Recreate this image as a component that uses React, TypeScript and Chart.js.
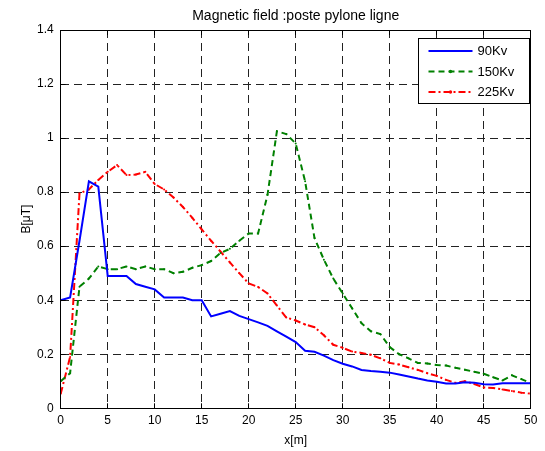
import React, { useEffect, useRef } from 'react';
import { Chart, registerables } from 'chart.js';

Chart.register(...registerables);

const chartTitle = 'Magnetic field :poste pylone ligne';
const xAxisLabel = 'x[m]';
const yAxisLabel = 'B[μT]';
const seriesLabels = ['90Kv', '150Kv', '225Kv'];

const xValues = [
  0, 1, 2, 3, 4, 5, 6, 7, 8, 9, 10, 11, 12, 13, 14, 15, 16, 17, 18, 19, 20, 21, 22, 23, 24, 25,
  26, 27, 28, 29, 30, 31, 32, 33, 34, 35, 36, 37, 38, 39, 40, 41, 42, 43, 44, 45, 46, 47, 48, 49, 50,
];

const series90 = [
  0.40, 0.41, 0.62, 0.84, 0.82, 0.49, 0.49, 0.49, 0.46, 0.45, 0.44, 0.41, 0.41, 0.41, 0.40, 0.40,
  0.34, 0.35, 0.36, 0.342, 0.33, 0.318, 0.305, 0.285, 0.265, 0.245, 0.213, 0.209, 0.195, 0.178,
  0.165, 0.155, 0.142, 0.138, 0.135, 0.132, 0.125, 0.118, 0.11, 0.103, 0.098, 0.092, 0.092, 0.096,
  0.095, 0.089, 0.088, 0.093, 0.093, 0.093, 0.093,
];

const series150 = [
  0.10, 0.13, 0.45, 0.48, 0.525, 0.515, 0.515, 0.525, 0.515, 0.525, 0.515, 0.515, 0.50, 0.505,
  0.52, 0.53, 0.545, 0.575, 0.59, 0.62, 0.647, 0.647, 0.79, 1.025, 1.015, 0.98, 0.84, 0.63, 0.55,
  0.48, 0.425, 0.37, 0.315, 0.285, 0.275, 0.227, 0.20, 0.185, 0.168, 0.166, 0.16, 0.158, 0.15,
  0.143, 0.135, 0.128, 0.115, 0.103, 0.122, 0.108, 0.094,
];

const series225 = [
  0.054, 0.19, 0.795, 0.81, 0.845, 0.875, 0.90, 0.863, 0.865, 0.875, 0.83, 0.81, 0.78, 0.745,
  0.705, 0.662, 0.62, 0.58, 0.54, 0.50, 0.462, 0.449, 0.425, 0.38, 0.336, 0.325, 0.31, 0.30, 0.27,
  0.235, 0.224, 0.21, 0.205, 0.198, 0.185, 0.168, 0.162, 0.152, 0.142, 0.13, 0.12, 0.105, 0.094,
  0.10, 0.09, 0.077, 0.075, 0.07, 0.064, 0.058, 0.054,
];

const FONT = "'Liberation Sans', Arial, Helvetica, sans-serif";

const toPoints = (ys: number[]) => ys.map((y, i) => ({ x: xValues[i], y }));

const matlabFrame = {
  id: 'matlabFrame',
  afterDraw(chart: any) {
    const { ctx, chartArea: a, scales } = chart;
    const al = (p: number) => Math.round(p - 0.5) + 0.5;
    ctx.save();
    ctx.setLineDash([]);
    ctx.strokeStyle = '#000';
    ctx.lineWidth = 1;
    // inner tick marks
    const xs = scales.x;
    const ys = scales.y;
    ctx.beginPath();
    xs.ticks.forEach((t: any) => {
      const px = al(xs.getPixelForValue(t.value));
      ctx.moveTo(px, a.bottom);
      ctx.lineTo(px, a.bottom - 5);
      ctx.moveTo(px, a.top);
      ctx.lineTo(px, a.top + 5);
    });
    ys.ticks.forEach((t: any) => {
      const py = al(ys.getPixelForValue(t.value));
      ctx.moveTo(a.left, py);
      ctx.lineTo(a.left + 5, py);
      ctx.moveTo(a.right, py);
      ctx.lineTo(a.right - 5, py);
    });
    ctx.stroke();
    // frame
    ctx.strokeRect(al(a.left), al(a.top), al(a.right) - al(a.left), al(a.bottom) - al(a.top));

    // legend box
    const bw = 111;
    const bh = 65;
    const bx = al(a.right - 1.4 - bw);
    const by = al(a.top + 8.3);
    ctx.fillStyle = '#fff';
    ctx.fillRect(bx, by, bw, bh);
    ctx.strokeRect(bx, by, bw, bh);
    chart.data.datasets.forEach((ds: any, i: number) => {
      const yy = by + 12.5 + i * 20.5;
      ctx.save();
      ctx.strokeStyle = ds.borderColor;
      ctx.lineWidth = ds.borderWidth;
      ctx.setLineDash(ds.borderDash || []);
      ctx.beginPath();
      ctx.moveTo(bx + 10, yy);
      ctx.lineTo(bx + 54, yy);
      ctx.stroke();
      if (ds.pointRadius > 0) {
        ctx.fillStyle = ds.borderColor;
        ctx.beginPath();
        ctx.arc(bx + 32, yy, ds.pointRadius + 0.7, 0, Math.PI * 2);
        ctx.fill();
      }
      ctx.restore();
      ctx.fillStyle = '#000';
      ctx.font = `13px ${FONT}`;
      ctx.textAlign = 'left';
      ctx.textBaseline = 'middle';
      ctx.fillText(ds.label, bx + 59, yy + 0.5);
    });
    ctx.restore();
  },
};

export default function App() {
  const canvasRef = useRef<HTMLCanvasElement | null>(null);

  useEffect(() => {
    if (!canvasRef.current) return;
    const chart = new Chart(canvasRef.current, {
      type: 'line',
      data: {
        datasets: [
          {
            label: seriesLabels[0],
            data: toPoints(series90),
            borderColor: '#0000ff',
            backgroundColor: '#0000ff',
            borderWidth: 2,
            pointRadius: 0,
            tension: 0,
          },
          {
            label: seriesLabels[1],
            data: toPoints(series150),
            borderColor: '#008000',
            backgroundColor: '#008000',
            borderWidth: 2,
            borderDash: [6, 4],
            pointRadius: 1,
            pointBorderWidth: 0,
            tension: 0,
          },
          {
            label: seriesLabels[2],
            data: toPoints(series225),
            borderColor: '#ff0000',
            backgroundColor: '#ff0000',
            borderWidth: 2,
            borderDash: [7, 3, 2, 3],
            pointRadius: 1,
            pointBorderWidth: 0,
            tension: 0,
          },
        ],
      },
      options: {
        animation: false,
        responsive: false,
        maintainAspectRatio: false,
        color: '#000',
        layout: { padding: { left: 0, right: 14.3, top: 0, bottom: 0 } },
        plugins: {
          legend: { display: false },
          tooltip: { enabled: false },
          title: {
            display: true,
            fullSize: false,
            text: chartTitle,
            color: '#000',
            font: { family: FONT, size: 14, weight: 'normal' },
            padding: { top: 8, bottom: 5.2 },
          },
        },
        scales: {
          x: {
            type: 'linear',
            min: 0,
            max: 50,
            afterFit: (s: any) => {
              s.height = 42.7;
            },
            ticks: {
              stepSize: 5,
              color: '#000',
              font: { family: FONT, size: 12 },
              padding: 5,
              maxRotation: 0,
              autoSkip: false,
            },
            grid: { color: '#222', lineWidth: 1, drawTicks: false },
            border: { display: true, color: '#000', width: 1, dash: [8, 5] },
            title: {
              display: true,
              text: xAxisLabel,
              color: '#000',
              font: { family: FONT, size: 12 },
              padding: { top: 0, bottom: 3.6 },
            },
          },
          y: {
            type: 'linear',
            min: 0,
            max: 1.4,
            afterFit: (s: any) => {
              s.width = 60.7;
            },
            ticks: {
              stepSize: 0.2,
              color: '#000',
              font: { family: FONT, size: 12 },
              padding: 7,
              callback: (v: any) => String(Math.round(Number(v) * 10) / 10),
            },
            grid: { color: '#222', lineWidth: 1, drawTicks: false },
            border: { display: true, color: '#000', width: 1, dash: [8, 5] },
            title: {
              display: true,
              text: yAxisLabel,
              color: '#000',
              font: { family: FONT, size: 12 },
              padding: { top: 19.5, bottom: 0 },
            },
          },
        },
      },
      plugins: [matlabFrame],
    });
    return () => chart.destroy();
  }, []);

  return (
    <div style={{ position: 'fixed', left: 0, top: 0, width: 545, height: 451, background: '#fff' }}>
      <canvas ref={canvasRef} width={545} height={451} />
    </div>
  );
}
